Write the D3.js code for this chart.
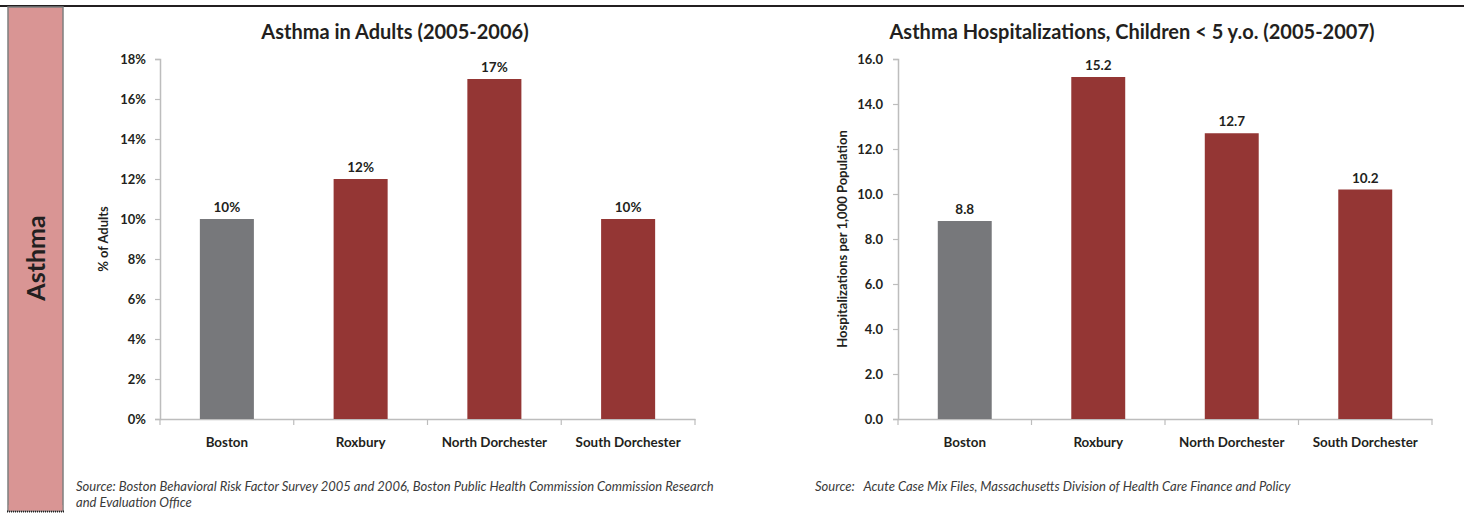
<!DOCTYPE html>
<html>
<head>
<meta charset="utf-8">
<script src="https://cdn.jsdelivr.net/npm/d3@7"></script>
<style>
  html, body { margin: 0; padding: 0; background: #fff; }
  svg { display: block; font-family: Lato, "Open Sans", sans-serif; }
</style>
</head>
<body>
<svg id="page" width="1464" height="514"></svg>
<script>
// Neighborhoods shown in both charts
const categories = ["Boston", "Roxbury", "North Dorchester", "South Dorchester"];

// Percent of adults with asthma, 2005-2006
const adultAsthma = [10, 12, 17, 10];
const adultTicks = [0, 2, 4, 6, 8, 10, 12, 14, 16, 18];

// Asthma hospitalizations per 1,000 children under 5, 2005-2007
const childHosp = [8.8, 15.2, 12.7, 10.2];
const childTicks = [0, 2, 4, 6, 8, 10, 12, 14, 16];

const sectionLabel = "Asthma";
const leftTitle = "Asthma in Adults (2005-2006)";
const rightTitle = "Asthma Hospitalizations, Children < 5 y.o. (2005-2007)";
const leftYLabel = "% of Adults";
const rightYLabel = "Hospitalizations per 1,000 Population";
const leftSource = [
  "Source: Boston Behavioral Risk Factor Survey 2005 and 2006, Boston Public Health Commission Commission Research",
  "and Evaluation Office"
];
const rightSource = ["Source:\u00a0\u00a0 Acute Case Mix Files, Massachusetts Division of Health Care Finance and Policy"];

const TEXT = "#231f20";
const AXIS = "#bdbdbd";
const GREY_BAR = "#77787b";
const RED_BAR = "#943634";

const svg = d3.select("#page");

// Top rule across the page
svg.append("rect").attr("x", 0).attr("y", 5).attr("width", 1464).attr("height", 2).attr("fill", "#231f20");

// Section side panel
svg.append("rect").attr("x", 8).attr("y", 7).attr("width", 55).attr("height", 504)
  .attr("fill", "#d99594").attr("stroke", "#7f7f7f").attr("stroke-width", 1.5);
svg.append("line").attr("x1", 7).attr("x2", 64).attr("y1", 511.5).attr("y2", 511.5)
  .attr("stroke", "#222").attr("stroke-width", 2).attr("stroke-dasharray", "1,1");
svg.append("rect").attr("x", 8.75).attr("y", 505).attr("width", 53.5).attr("height", 5.5).attr("fill", "#d99594");
svg.append("text")
  .attr("transform", "translate(45,258) rotate(-90)")
  .attr("text-anchor", "middle")
  .attr("font-size", 25).attr("font-weight", 700).attr("fill", TEXT)
  .text(sectionLabel);

function drawChart(opt) {
  const g = svg.append("g");
  const x = d3.scaleBand().domain(categories).range([opt.x0, opt.x1])
    .paddingInner(0.596).paddingOuter(0.298);
  const y = d3.scaleLinear().domain([0, opt.max]).range([419, 59]);

  // Title
  g.append("text").attr("x", opt.titleX).attr("y", 39)
    .attr("text-anchor", "middle").attr("font-size", 20).attr("font-weight", 700)
    .attr("fill", TEXT).text(opt.title);

  // Y axis
  const yAxis = g.append("g").attr("transform", `translate(${opt.x0},0)`)
    .call(d3.axisLeft(y).tickValues(opt.ticks).tickSize(5).tickPadding(opt.tickPad).tickFormat(opt.fmt));
  yAxis.select(".domain").attr("stroke", AXIS).attr("stroke-width", 1.5);
  yAxis.selectAll(".tick line").attr("stroke", AXIS).attr("stroke-width", 1.2);
  yAxis.selectAll(".tick text").attr("fill", TEXT).attr("font-size", 13).attr("font-weight", 700)
    .attr("font-family", "Lato, sans-serif");

  // Y axis title
  g.append("text")
    .attr("transform", `translate(${opt.yLabelX},239) rotate(-90)`)
    .attr("text-anchor", "middle").attr("font-size", 13).attr("font-weight", 700)
    .attr("fill", TEXT).text(opt.yLabel);

  // X axis with labels
  const xAxis = g.append("g").attr("transform", "translate(0,419)")
    .call(d3.axisBottom(x).tickSize(0).tickPadding(18).tickSizeOuter(0));
  xAxis.select(".domain").attr("stroke", AXIS).attr("stroke-width", 1.5);
  xAxis.selectAll(".tick text").attr("fill", TEXT).attr("font-size", 13.4).attr("font-weight", 700)
    .attr("font-family", "Lato, sans-serif");

  // Category boundary tick marks below the x axis
  const edges = [opt.x0].concat(categories.map(c => x(c) + x.bandwidth() + (x.step() - x.bandwidth()) / 2));
  g.selectAll(".edge").data(edges).join("line")
    .attr("x1", d => d).attr("x2", d => d).attr("y1", 419).attr("y2", 425)
    .attr("stroke", AXIS).attr("stroke-width", 1.2);

  // Bars
  g.selectAll(".bar").data(opt.values).join("rect")
    .attr("x", (d, i) => x(categories[i]))
    .attr("y", d => y(d))
    .attr("width", x.bandwidth())
    .attr("height", d => y(0) - y(d))
    .attr("fill", (d, i) => i === 0 ? GREY_BAR : RED_BAR);

  // Value labels
  g.selectAll(".val").data(opt.values).join("text")
    .attr("x", (d, i) => x(categories[i]) + x.bandwidth() / 2)
    .attr("y", d => y(d) - 7)
    .attr("text-anchor", "middle").attr("font-size", 13.5).attr("font-weight", 700)
    .attr("fill", TEXT).text(opt.valFmt);

  // Source note
  g.selectAll(".src").data(opt.source).join("text")
    .attr("x", opt.srcX).attr("y", (d, i) => 491 + i * 16)
    .attr("font-size", 13).attr("font-style", "italic").attr("fill", "#3a3a3a")
    .text(d => d);
}

drawChart({
  x0: 160, x1: 695, max: 18, ticks: adultTicks, values: adultAsthma,
  fmt: d => d + "%", valFmt: d => d + "%", tickPad: 9,
  title: leftTitle, titleX: 395, yLabel: leftYLabel, yLabelX: 108,
  source: leftSource, srcX: 76
});

drawChart({
  x0: 898, x1: 1432, max: 16, ticks: childTicks, values: childHosp,
  fmt: d3.format(".1f"), valFmt: d3.format(".1f"), tickPad: 10,
  title: rightTitle, titleX: 1132, yLabel: rightYLabel, yLabelX: 847,
  source: rightSource, srcX: 815
});
</script>
</body>
</html>
